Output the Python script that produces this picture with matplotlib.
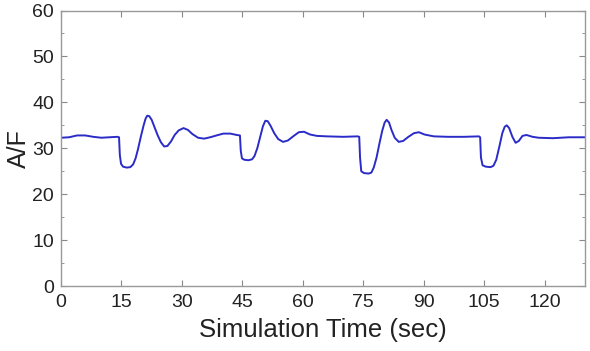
import matplotlib
matplotlib.use("Agg")
import matplotlib.pyplot as plt
from matplotlib.ticker import MultipleLocator

# A/F response (time in sec, A/F)
t = [0, 2, 4, 6, 8, 10, 12, 14, 14.4,
     14.6, 14.9, 15.4, 16.3, 17.2, 17.9, 18.5, 19.1, 19.8, 20.5, 21.0, 21.4,
     21.9, 22.5, 23.2, 24.0, 24.8, 25.6, 26.4, 27.3, 28.2, 29.2, 30.4, 31.5,
     32.6, 34.0, 35.5, 37, 39, 40.3, 42, 43.6, 44.4,
     44.6, 44.9, 45.5, 46.5, 47.4, 48.0, 48.7, 49.4, 50.1, 50.7, 51.3, 52.0,
     52.9, 53.9, 55.1, 56.3, 57.6, 59.0, 60.3, 61.8, 63.5, 66, 70, 73.6, 74,
     74.2, 74.5, 75.2, 76.3, 77.0, 77.6, 78.3, 79.0, 79.7, 80.3, 80.8, 81.4,
     82.0, 82.8, 83.8, 84.9, 86.2, 87.6, 88.8, 90.2, 92.5, 96, 100, 103.7, 104,
     104.2, 104.6, 105.4, 106.6, 107.3, 108.0, 108.8, 109.5, 110.1, 110.6,
     111.2, 112.0, 112.8, 113.6, 114.5, 115.5, 117.0, 118.5, 122, 126, 130]
af = [32.3, 32.4, 32.8, 32.8, 32.5, 32.3, 32.4, 32.5, 32.4,
      28.5, 26.6, 26.0, 25.8, 25.9, 26.5, 27.8, 29.8, 32.5, 35.0, 36.5, 37.1,
      37.0, 36.2, 34.6, 32.8, 31.3, 30.4, 30.5, 31.5, 32.9, 33.9, 34.4, 34.0,
      33.1, 32.3, 32.1, 32.4, 32.9, 33.2, 33.2, 32.9, 32.8,
      29.5, 27.8, 27.5, 27.4, 27.6, 28.3, 30.0, 32.4, 34.8, 36.0, 35.9, 34.9,
      33.3, 32.0, 31.4, 31.7, 32.6, 33.5, 33.6, 33.0, 32.7, 32.6, 32.5, 32.6, 32.5,
      28.0, 25.0, 24.6, 24.5, 24.7, 25.8, 28.0, 31.0, 33.8, 35.6, 36.2, 35.6,
      34.0, 32.3, 31.4, 31.6, 32.5, 33.3, 33.5, 33.0, 32.6, 32.5, 32.5, 32.6, 32.4,
      28.0, 26.3, 26.0, 25.9, 26.2, 27.5, 30.5, 33.3, 34.7, 35.0,
      34.4, 32.5, 31.2, 31.6, 32.7, 32.9, 32.5, 32.3, 32.2, 32.4, 32.4]

xticks = [0, 15, 30, 45, 60, 75, 90, 105, 120]
yticks = [0, 10, 20, 30, 40, 50, 60]

plt.rcParams['font.family'] = ['Liberation Sans', 'DejaVu Sans']

fig = plt.figure(figsize=(5.9, 3.51), dpi=100)
ax = fig.add_axes([0.1034, 0.185, 0.888, 0.785])
ax.plot(t, af, color="#2b2bc8", lw=1.4)

ax.set_xlim(0, 130)
ax.set_ylim(0, 60)
ax.set_xticks(xticks)
ax.set_yticks(yticks)
ax.yaxis.set_minor_locator(MultipleLocator(5))
ax.tick_params(which="both", direction="in", top=True, right=True,
               color="#888888", labelsize=14)
ax.tick_params(axis="x", which="major", pad=6)
ax.tick_params(axis="y", which="major", pad=5)
ax.tick_params(which="major", length=4)
ax.tick_params(which="minor", length=2)
for s in ax.spines.values():
    s.set_color("#999999")
    s.set_linewidth(1.0)

ax.set_xlabel("Simulation Time (sec)", fontsize=18.5, labelpad=5, color="#222222")
ax.set_ylabel("A/F", fontsize=18, labelpad=1, color="#222222")
for lab in ax.get_xticklabels() + ax.get_yticklabels():
    lab.set_color("#222222")

fig.savefig("out.png", dpi=100)
